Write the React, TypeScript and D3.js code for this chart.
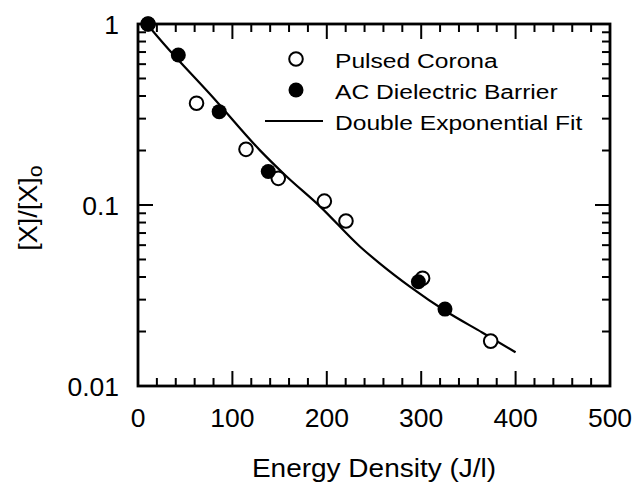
import React from "react";
import * as d3 from "d3";

const pulsedX = [10.6, 62, 114.4, 148.6, 197.4, 220.3, 301.5, 373.6];
const pulsedY = [1.0, 0.365, 0.203, 0.1404, 0.105, 0.0816, 0.0394, 0.0177];

const acX = [10.8, 42.7, 86, 138, 297, 325.2];
const acY = [1.0, 0.674, 0.328, 0.153, 0.0377, 0.0266];

const fitX = [10, 27, 80, 129, 156, 193, 235, 256, 288, 327, 365, 400];
const fitY = [0.99, 0.78, 0.39, 0.201, 0.146, 0.098, 0.059, 0.0476, 0.0354, 0.0257, 0.0197, 0.01535];

const xTicks = [0, 100, 200, 300, 400, 500];
const yTicks = [1, 0.1, 0.01];
const yTickLabels = ["1", "0.1", "0.01"];

const legendLabels = ["Pulsed Corona", "AC Dielectric Barrier", "Double Exponential Fit"];

const FONT = "'Liberation Sans', Arial, Helvetica, sans-serif";

export default function App() {
  const W = 640, H = 491;
  const left = 138, right = 610, top = 24, bottom = 386;
  const x = d3.scaleLinear().domain([0, 500]).range([left, right]);
  const y = d3.scaleLog().domain([0.01, 1]).range([bottom, top]);

  const xMinor = d3.range(0, 501, 20).filter((v) => v % 100 !== 0);
  const yMinor: number[] = [];
  [0.01, 0.1].forEach((d) => {
    for (let k = 2; k <= 9; k++) yMinor.push(d * k);
  });

  const fitPts = fitX.map((v, i) => [x(v), y(fitY[i])] as [number, number]);
  const line = d3.line().curve(d3.curveMonotoneX)(fitPts) || "";

  const majorLen = 15, minorLen = 8;
  const tickW = 2;

  return (
    <svg
      width={W}
      height={H}
      style={{ position: "absolute", left: 0, top: 0, background: "#fff" }}
      fontFamily={FONT}
    >
      <rect x={0} y={0} width={W} height={H} fill="#fff" />
      {/* fit line */}
      <path d={line} fill="none" stroke="#000" strokeWidth={2.2} />
      {/* pulsed corona */}
      {pulsedX.map((v, i) => (
        <circle key={"p" + i} cx={x(v)} cy={y(pulsedY[i])} r={6.8} fill="#fff" stroke="#000" strokeWidth={2} />
      ))}
      {/* AC */}
      {acX.map((v, i) => (
        <circle key={"a" + i} cx={x(v)} cy={y(acY[i])} r={7.5} fill="#000" />
      ))}

      {/* ticks */}
      {xTicks.map((t) => (
        <g key={"xt" + t}>
          <line x1={x(t)} x2={x(t)} y1={bottom} y2={bottom - majorLen} stroke="#000" strokeWidth={tickW} />
          <line x1={x(t)} x2={x(t)} y1={top} y2={top + majorLen} stroke="#000" strokeWidth={tickW} />
        </g>
      ))}
      {xMinor.map((t) => (
        <g key={"xm" + t}>
          <line x1={x(t)} x2={x(t)} y1={bottom} y2={bottom - minorLen} stroke="#000" strokeWidth={tickW} />
          <line x1={x(t)} x2={x(t)} y1={top} y2={top + minorLen} stroke="#000" strokeWidth={tickW} />
        </g>
      ))}
      {yTicks.map((t) => (
        <g key={"yt" + t}>
          <line x1={left} x2={left + majorLen} y1={y(t)} y2={y(t)} stroke="#000" strokeWidth={tickW} />
          <line x1={right} x2={right - majorLen} y1={y(t)} y2={y(t)} stroke="#000" strokeWidth={tickW} />
        </g>
      ))}
      {yMinor.map((t, i) => (
        <g key={"ym" + i}>
          <line x1={left} x2={left + minorLen} y1={y(t)} y2={y(t)} stroke="#000" strokeWidth={tickW} />
          <line x1={right} x2={right - minorLen} y1={y(t)} y2={y(t)} stroke="#000" strokeWidth={tickW} />
        </g>
      ))}

      {/* frame */}
      <rect x={left} y={top} width={right - left} height={bottom - top} fill="none" stroke="#000" strokeWidth={2.8} />

      {/* tick labels */}
      {xTicks.map((t) => (
        <text key={"xl" + t} x={x(t)} y={427} textAnchor="middle" fontSize={26.5} fill="#000">
          {t}
        </text>
      ))}
      {yTicks.map((t, i) => (
        <text key={"yl" + t} x={119} y={y(t) + 9.5} textAnchor="end" fontSize={26.5} fill="#000">
          {yTickLabels[i]}
        </text>
      ))}

      {/* axis titles */}
      <g transform={`translate(${(left + right) / 2},477) scale(1.12,1)`}>
        <text x={0} y={0} textAnchor="middle" fontSize={25} fill="#000">
          Energy Density (J/l)
        </text>
      </g>
      <g transform={`translate(37,208) rotate(-90) scale(1.08,1)`}>
        <text x={0} y={0} textAnchor="middle" fontSize={25} fill="#000">
          [X]/[X]
          <tspan fontSize={20} dy={5}>o</tspan>
        </text>
      </g>

      {/* legend */}
      <circle cx={296} cy={59} r={6.8} fill="#fff" stroke="#000" strokeWidth={2} />
      <circle cx={296} cy={90} r={7.5} fill="#000" />
      <line x1={265} x2={323} y1={121} y2={121} stroke="#000" strokeWidth={2.2} />
      {legendLabels.map((s, i) => (
        <g key={"lg" + i} transform={`translate(335,${68 + i * 31}) scale(1.23,1)`}>
          <text x={0} y={0} fontSize={20} fill="#000">
            {s}
          </text>
        </g>
      ))}
    </svg>
  );
}
